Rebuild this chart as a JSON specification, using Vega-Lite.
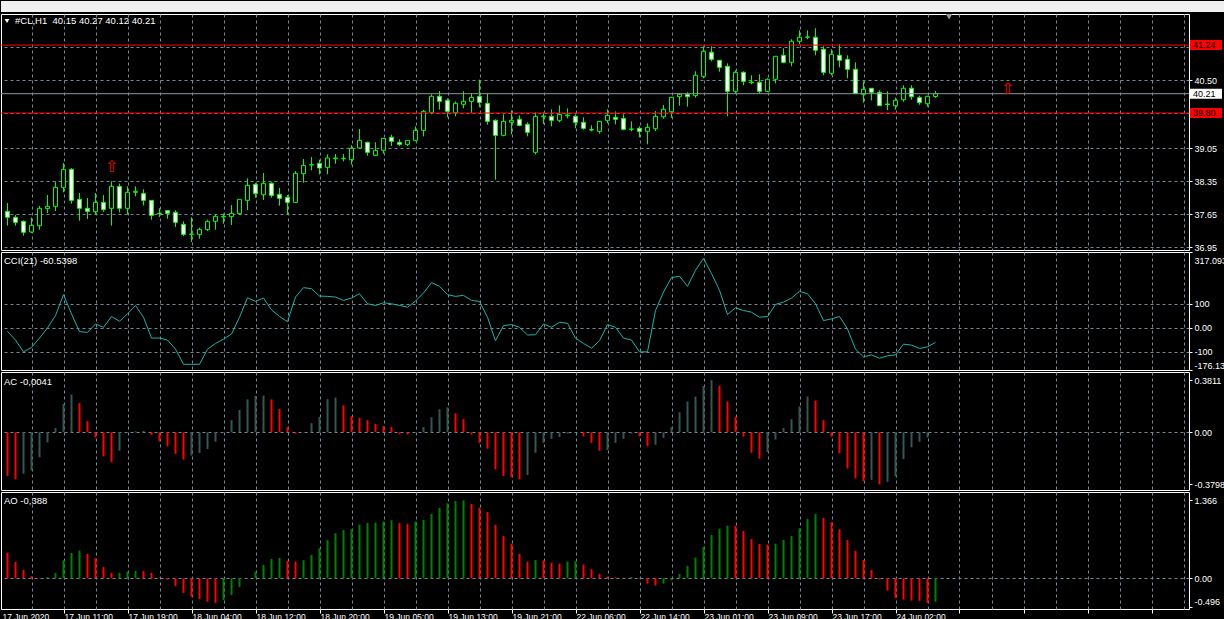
{
  "$schema": "https://vega.github.io/schema/vega-lite/v6.json",
  "background": "#000000",
  "padding": 0,
  "spacing": 2,
  "bounds": "flush",
  "datasets": {
    "candles": [
      {"i":0,"o":37.714,"h":37.891,"l":37.410,"c":37.587},{"i":1,"o":37.587,"h":37.636,"l":37.410,"c":37.481},{"i":2,"o":37.502,"h":37.523,"l":37.198,"c":37.269},{"i":3,"o":37.276,"h":37.580,"l":37.254,"c":37.417},{"i":4,"o":37.410,"h":37.827,"l":37.325,"c":37.778},{"i":5,"o":37.771,"h":38.060,"l":37.679,"c":37.820},{"i":6,"o":37.820,"h":38.343,"l":37.721,"c":38.223},{"i":7,"o":38.223,"h":38.739,"l":38.117,"c":38.605},{"i":8,"o":38.605,"h":38.633,"l":37.877,"c":37.947},{"i":9,"o":37.969,"h":38.103,"l":37.516,"c":37.778},
      {"i":10,"o":37.778,"h":37.997,"l":37.551,"c":37.714},{"i":11,"o":37.707,"h":38.103,"l":37.650,"c":37.905},{"i":12,"o":37.905,"h":38.060,"l":37.707,"c":37.749},{"i":13,"o":37.778,"h":38.350,"l":37.410,"c":38.244},{"i":14,"o":38.244,"h":38.301,"l":37.693,"c":37.778},{"i":15,"o":37.778,"h":38.244,"l":37.650,"c":38.117},{"i":16,"o":38.117,"h":38.244,"l":38.032,"c":38.138},{"i":17,"o":38.089,"h":38.181,"l":37.841,"c":37.947},{"i":18,"o":37.947,"h":37.947,"l":37.537,"c":37.629},{"i":19,"o":37.671,"h":37.778,"l":37.594,"c":37.664},
      {"i":20,"o":37.728,"h":37.735,"l":37.558,"c":37.671},{"i":21,"o":37.693,"h":37.735,"l":37.382,"c":37.481},{"i":22,"o":37.438,"h":37.502,"l":37.191,"c":37.226},{"i":23,"o":37.226,"h":37.587,"l":37.063,"c":37.233},{"i":24,"o":37.226,"h":37.368,"l":37.134,"c":37.332},{"i":25,"o":37.325,"h":37.537,"l":37.297,"c":37.502},{"i":26,"o":37.502,"h":37.650,"l":37.325,"c":37.608},{"i":27,"o":37.594,"h":37.664,"l":37.452,"c":37.608},{"i":28,"o":37.601,"h":37.848,"l":37.424,"c":37.671},{"i":29,"o":37.665,"h":37.976,"l":37.650,"c":37.969},
      {"i":30,"o":37.947,"h":38.414,"l":37.742,"c":38.265},{"i":31,"o":38.287,"h":38.315,"l":38.004,"c":38.089},{"i":32,"o":38.067,"h":38.527,"l":37.954,"c":38.308},{"i":33,"o":38.308,"h":38.329,"l":38.004,"c":38.053},{"i":34,"o":38.075,"h":38.209,"l":37.834,"c":37.990},{"i":35,"o":38.011,"h":38.060,"l":37.650,"c":37.905},{"i":36,"o":37.905,"h":38.570,"l":37.898,"c":38.520},{"i":37,"o":38.513,"h":38.824,"l":38.322,"c":38.690},{"i":38,"o":38.697,"h":38.866,"l":38.584,"c":38.704},{"i":39,"o":38.732,"h":38.810,"l":38.499,"c":38.633},
      {"i":40,"o":38.647,"h":38.923,"l":38.499,"c":38.845},{"i":41,"o":38.831,"h":38.930,"l":38.725,"c":38.845},{"i":42,"o":38.831,"h":38.930,"l":38.775,"c":38.838},{"i":43,"o":38.810,"h":39.114,"l":38.704,"c":39.050},{"i":44,"o":39.057,"h":39.461,"l":39.050,"c":39.220},{"i":45,"o":39.178,"h":39.192,"l":38.895,"c":38.966},{"i":46,"o":38.902,"h":39.178,"l":38.895,"c":39.008},{"i":47,"o":39.008,"h":39.270,"l":38.937,"c":39.263},{"i":48,"o":39.284,"h":39.340,"l":39.100,"c":39.199},{"i":49,"o":39.178,"h":39.241,"l":39.100,"c":39.135},
      {"i":50,"o":39.135,"h":39.227,"l":39.100,"c":39.220},{"i":51,"o":39.220,"h":39.517,"l":39.199,"c":39.432},{"i":52,"o":39.432,"h":39.864,"l":39.305,"c":39.835},{"i":53,"o":39.814,"h":40.196,"l":39.772,"c":40.154},{"i":54,"o":40.154,"h":40.267,"l":39.871,"c":40.047},{"i":55,"o":40.069,"h":40.111,"l":39.708,"c":39.835},{"i":56,"o":39.807,"h":40.047,"l":39.729,"c":40.005},{"i":57,"o":39.984,"h":40.260,"l":39.899,"c":40.047},{"i":58,"o":40.047,"h":40.224,"l":39.800,"c":40.132},{"i":59,"o":40.154,"h":40.507,"l":39.920,"c":40.026},
      {"i":60,"o":40.005,"h":40.217,"l":39.552,"c":39.623},{"i":61,"o":39.644,"h":39.666,"l":38.386,"c":39.326},{"i":62,"o":39.326,"h":39.772,"l":39.305,"c":39.623},{"i":63,"o":39.602,"h":39.857,"l":39.348,"c":39.644},{"i":64,"o":39.666,"h":39.750,"l":39.517,"c":39.538},{"i":65,"o":39.560,"h":39.602,"l":39.305,"c":39.390},{"i":66,"o":38.966,"h":39.814,"l":38.923,"c":39.729},{"i":67,"o":39.722,"h":39.814,"l":39.567,"c":39.736},{"i":68,"o":39.729,"h":39.878,"l":39.517,"c":39.644},{"i":69,"o":39.644,"h":39.963,"l":39.602,"c":39.772},
      {"i":70,"o":39.743,"h":39.899,"l":39.687,"c":39.758},{"i":71,"o":39.729,"h":39.772,"l":39.475,"c":39.602},{"i":72,"o":39.602,"h":39.708,"l":39.446,"c":39.475},{"i":73,"o":39.446,"h":39.538,"l":39.411,"c":39.439},{"i":74,"o":39.411,"h":39.630,"l":39.362,"c":39.623},{"i":75,"o":39.644,"h":39.878,"l":39.581,"c":39.750},{"i":76,"o":39.708,"h":39.835,"l":39.560,"c":39.666},{"i":77,"o":39.687,"h":39.772,"l":39.432,"c":39.453},{"i":78,"o":39.453,"h":39.623,"l":39.411,"c":39.461},{"i":79,"o":39.475,"h":39.517,"l":39.284,"c":39.411},
      {"i":80,"o":39.411,"h":39.581,"l":39.135,"c":39.496},{"i":81,"o":39.467,"h":39.842,"l":39.418,"c":39.730},{"i":82,"o":39.721,"h":39.970,"l":39.679,"c":39.878},{"i":83,"o":39.827,"h":40.139,"l":39.700,"c":40.133},{"i":84,"o":40.146,"h":40.218,"l":39.955,"c":40.197},{"i":85,"o":40.197,"h":40.239,"l":39.934,"c":40.146},{"i":86,"o":40.167,"h":40.685,"l":40.125,"c":40.600},{"i":87,"o":40.578,"h":41.215,"l":40.536,"c":41.109},{"i":88,"o":41.088,"h":41.215,"l":40.897,"c":40.939},{"i":89,"o":40.918,"h":40.918,"l":40.676,"c":40.769},
      {"i":90,"o":40.791,"h":40.854,"l":39.730,"c":40.260},{"i":91,"o":40.260,"h":40.706,"l":40.211,"c":40.663},{"i":92,"o":40.663,"h":40.685,"l":40.388,"c":40.472},{"i":93,"o":40.443,"h":40.600,"l":40.409,"c":40.458},{"i":94,"o":40.451,"h":40.621,"l":40.224,"c":40.260},{"i":95,"o":40.260,"h":40.536,"l":40.252,"c":40.515},{"i":96,"o":40.515,"h":41.009,"l":40.430,"c":41.003},{"i":97,"o":41.024,"h":41.173,"l":40.854,"c":40.875},{"i":98,"o":40.875,"h":41.363,"l":40.791,"c":41.321},{"i":99,"o":41.321,"h":41.554,"l":41.258,"c":41.406},
      {"i":100,"o":41.406,"h":41.554,"l":41.363,"c":41.413},{"i":101,"o":41.406,"h":41.597,"l":41.024,"c":41.130},{"i":102,"o":41.151,"h":41.215,"l":40.600,"c":40.663},{"i":103,"o":40.642,"h":41.151,"l":40.600,"c":41.045},{"i":104,"o":41.024,"h":41.258,"l":40.769,"c":40.918},{"i":105,"o":40.939,"h":41.024,"l":40.536,"c":40.727},{"i":106,"o":40.727,"h":40.875,"l":40.203,"c":40.210},{"i":107,"o":40.197,"h":40.472,"l":40.019,"c":40.303},{"i":108,"o":40.324,"h":40.330,"l":40.069,"c":40.239},{"i":109,"o":40.239,"h":40.281,"l":39.948,"c":39.955},
      {"i":110,"o":39.991,"h":40.260,"l":39.857,"c":39.980},{"i":111,"o":39.955,"h":40.125,"l":39.870,"c":40.069},{"i":112,"o":40.082,"h":40.388,"l":40.040,"c":40.324},{"i":113,"o":40.324,"h":40.388,"l":40.082,"c":40.146},{"i":114,"o":40.125,"h":40.167,"l":39.976,"c":40.019},{"i":115,"o":39.997,"h":40.167,"l":39.934,"c":40.154},{"i":116,"o":40.15,"h":40.27,"l":40.12,"c":40.21}
    ],
    "levels": [
      {"p": 41.24, "k": "level"},
      {"p": 40.21, "k": "bid"},
      {"p": 39.80, "k": "level"}
    ],
    "arrows": [
      {"i": 13, "p": 38.654},
      {"i": 125, "p": 40.303}
    ],
    "cci": [
      {"i":0,"v":-15},{"i":1,"v":-51.1},{"i":2,"v":-100.3},{"i":3,"v":-82.0},{"i":4,"v":-42.7},{"i":5,"v":-0.5},{"i":6,"v":51.5},{"i":7,"v":138.6},{"i":8,"v":58.5},{"i":9,"v":-16.0},
      {"i":10,"v":-18.8},{"i":11,"v":16.3},{"i":12,"v":2.3},{"i":13,"v":47.3},{"i":14,"v":27.6},{"i":15,"v":58.5},{"i":16,"v":93.6},{"i":17,"v":44.4},{"i":18,"v":-42.7},{"i":19,"v":-42.7},
      {"i":20,"v":-51.1},{"i":21,"v":-89.1},{"i":22,"v":-152.3},{"i":23,"v":-152.3},{"i":24,"v":-152.3},{"i":25,"v":-89.1},{"i":26,"v":-65.2},{"i":27,"v":-46.9},{"i":28,"v":-25.8},{"i":29,"v":44.4},
      {"i":30,"v":126.0},{"i":31,"v":110.5},{"i":32,"v":124.5},{"i":33,"v":75.4},{"i":34,"v":47.3},{"i":35,"v":26.2},{"i":36,"v":128.8},{"i":37,"v":168.1},{"i":38,"v":163.9},{"i":39,"v":133.0},
      {"i":40,"v":131.6},{"i":41,"v":128.8},{"i":42,"v":114.7},{"i":43,"v":124.5},{"i":44,"v":142.8},{"i":45,"v":100.7},{"i":46,"v":93.6},{"i":47,"v":104.9},{"i":48,"v":100.7},{"i":49,"v":93.6},
      {"i":50,"v":86.6},{"i":51,"v":111.9},{"i":52,"v":145.6},{"i":53,"v":189.2},{"i":54,"v":173.7},{"i":55,"v":138.6},{"i":56,"v":131.6},{"i":57,"v":135.8},{"i":58,"v":114.7},{"i":59,"v":110.5},
      {"i":60,"v":44.4},{"i":61,"v":-53.9},{"i":62,"v":9.3},{"i":63,"v":13.5},{"i":64,"v":2.3},{"i":65,"v":-30.0},{"i":66,"v":-28.6},{"i":67,"v":16.3},{"i":68,"v":2.3},{"i":69,"v":23.4},
      {"i":70,"v":19.2},{"i":71,"v":-42.7},{"i":72,"v":-65.2},{"i":73,"v":-84.8},{"i":74,"v":-53.9},{"i":75,"v":13.5},{"i":76,"v":2.3},{"i":77,"v":-42.7},{"i":78,"v":-51.1},{"i":79,"v":-100.3},
      {"i":80,"v":-100.3},{"i":81,"v":72.5},{"i":82,"v":149.8},{"i":83,"v":210.3},{"i":84,"v":215.9},{"i":85,"v":173.7},{"i":86,"v":241.2},{"i":87,"v":290.4},{"i":88,"v":227.1},{"i":89,"v":156.9},
      {"i":90,"v":55.7},{"i":91,"v":83.8},{"i":92,"v":72.5},{"i":93,"v":65.5},{"i":94,"v":44.4},{"i":95,"v":47.3},{"i":96,"v":97.8},{"i":97,"v":107.7},{"i":98,"v":124.5},{"i":99,"v":152.6},
      {"i":100,"v":142.8},{"i":101,"v":100.7},{"i":102,"v":30.4},{"i":103,"v":37.4},{"i":104,"v":47.3},{"i":105,"v":-4.7},{"i":106,"v":-89.1},{"i":107,"v":-121.4},{"i":108,"v":-113.0},{"i":109,"v":-127.0},
      {"i":110,"v":-117.2},{"i":111,"v":-113.0},{"i":112,"v":-68.0},{"i":113,"v":-72.2},{"i":114,"v":-86.3},{"i":115,"v":-79.2},{"i":116,"v":-60.54}
    ],
    "ac": [
      {"i":0,"v":-0.319,"t":"d"},{"i":1,"v":-0.343,"t":"d"},{"i":2,"v":-0.302,"t":"u"},{"i":3,"v":-0.278,"t":"u"},{"i":4,"v":-0.182,"t":"u"},{"i":5,"v":-0.074,"t":"u"},{"i":6,"v":0.031,"t":"u"},{"i":7,"v":0.206,"t":"u"},{"i":8,"v":0.276,"t":"u"},{"i":9,"v":0.213,"t":"d"},
      {"i":10,"v":0.081,"t":"d"},{"i":11,"v":-0.038,"t":"d"},{"i":12,"v":-0.175,"t":"d"},{"i":13,"v":-0.218,"t":"d"},{"i":14,"v":-0.134,"t":"u"},{"i":15,"v":-0.005,"t":"u"},{"i":16,"v":0.007,"t":"u"},{"i":17,"v":0.010,"t":"u"},{"i":18,"v":-0.019,"t":"d"},{"i":19,"v":-0.067,"t":"d"},
      {"i":20,"v":-0.103,"t":"d"},{"i":21,"v":-0.158,"t":"d"},{"i":22,"v":-0.199,"t":"d"},{"i":23,"v":-0.170,"t":"u"},{"i":24,"v":-0.151,"t":"u"},{"i":25,"v":-0.122,"t":"u"},{"i":26,"v":-0.069,"t":"u"},{"i":27,"v":-0.003,"t":"u"},{"i":28,"v":0.089,"t":"u"},{"i":29,"v":0.163,"t":"u"},
      {"i":30,"v":0.240,"t":"u"},{"i":31,"v":0.266,"t":"u"},{"i":32,"v":0.268,"t":"u"},{"i":33,"v":0.240,"t":"d"},{"i":34,"v":0.170,"t":"d"},{"i":35,"v":0.038,"t":"d"},{"i":36,"v":-0.010,"t":"d"},{"i":37,"v":-0.002,"t":"u"},{"i":38,"v":0.067,"t":"u"},{"i":39,"v":0.113,"t":"u"},
      {"i":40,"v":0.242,"t":"u"},{"i":41,"v":0.254,"t":"u"},{"i":42,"v":0.197,"t":"d"},{"i":43,"v":0.117,"t":"d"},{"i":44,"v":0.105,"t":"d"},{"i":45,"v":0.089,"t":"d"},{"i":46,"v":0.062,"t":"d"},{"i":47,"v":0.046,"t":"d"},{"i":48,"v":0.038,"t":"d"},{"i":49,"v":-0.014,"t":"d"},
      {"i":50,"v":-0.016,"t":"d"},{"i":51,"v":0.000,"t":"u"},{"i":52,"v":0.038,"t":"u"},{"i":53,"v":0.110,"t":"u"},{"i":54,"v":0.168,"t":"u"},{"i":55,"v":0.182,"t":"u"},{"i":56,"v":0.139,"t":"d"},{"i":57,"v":0.096,"t":"d"},{"i":58,"v":-0.017,"t":"d"},{"i":59,"v":-0.077,"t":"d"},
      {"i":60,"v":-0.120,"t":"d"},{"i":61,"v":-0.271,"t":"d"},{"i":62,"v":-0.319,"t":"d"},{"i":63,"v":-0.328,"t":"d"},{"i":64,"v":-0.343,"t":"d"},{"i":65,"v":-0.312,"t":"u"},{"i":66,"v":-0.149,"t":"u"},{"i":67,"v":-0.077,"t":"u"},{"i":68,"v":-0.048,"t":"u"},{"i":69,"v":-0.034,"t":"u"},
      {"i":70,"v":-0.010,"t":"u"},{"i":71,"v":-0.002,"t":"u"},{"i":72,"v":-0.029,"t":"d"},{"i":73,"v":-0.077,"t":"d"},{"i":74,"v":-0.134,"t":"d"},{"i":75,"v":-0.129,"t":"u"},{"i":76,"v":-0.077,"t":"u"},{"i":77,"v":-0.048,"t":"u"},{"i":78,"v":-0.010,"t":"u"},{"i":79,"v":-0.029,"t":"d"},
      {"i":80,"v":-0.101,"t":"d"},{"i":81,"v":-0.091,"t":"u"},{"i":82,"v":-0.041,"t":"u"},{"i":83,"v":0.038,"t":"u"},{"i":84,"v":0.146,"t":"u"},{"i":85,"v":0.225,"t":"u"},{"i":86,"v":0.261,"t":"u"},{"i":87,"v":0.338,"t":"u"},{"i":88,"v":0.381,"t":"u"},{"i":89,"v":0.340,"t":"d"},
      {"i":90,"v":0.225,"t":"d"},{"i":91,"v":0.110,"t":"d"},{"i":92,"v":-0.031,"t":"d"},{"i":93,"v":-0.149,"t":"d"},{"i":94,"v":-0.192,"t":"d"},{"i":95,"v":-0.144,"t":"u"},{"i":96,"v":-0.053,"t":"u"},{"i":97,"v":0.031,"t":"u"},{"i":98,"v":0.096,"t":"u"},{"i":99,"v":0.189,"t":"u"},
      {"i":100,"v":0.261,"t":"u"},{"i":101,"v":0.232,"t":"d"},{"i":102,"v":0.089,"t":"d"},{"i":103,"v":-0.031,"t":"d"},{"i":104,"v":-0.153,"t":"d"},{"i":105,"v":-0.264,"t":"d"},{"i":106,"v":-0.335,"t":"d"},{"i":107,"v":-0.357,"t":"d"},{"i":108,"v":-0.347,"t":"u"},{"i":109,"v":-0.3798,"t":"d"},
      {"i":110,"v":-0.362,"t":"u"},{"i":111,"v":-0.321,"t":"u"},{"i":112,"v":-0.196,"t":"u"},{"i":113,"v":-0.110,"t":"u"},{"i":114,"v":-0.069,"t":"u"},{"i":115,"v":-0.038,"t":"u"},{"i":116,"v":-0.0041,"t":"u"}
    ],
    "ao": [
      {"i":0,"v":0.450,"t":"d"},{"i":1,"v":0.286,"t":"d"},{"i":2,"v":0.146,"t":"d"},{"i":3,"v":0.035,"t":"d"},{"i":4,"v":0.006,"t":"d"},{"i":5,"v":0.018,"t":"u"},{"i":6,"v":0.093,"t":"u"},{"i":7,"v":0.315,"t":"u"},{"i":8,"v":0.444,"t":"u"},{"i":9,"v":0.485,"t":"u"},
      {"i":10,"v":0.426,"t":"d"},{"i":11,"v":0.350,"t":"d"},{"i":12,"v":0.198,"t":"d"},{"i":13,"v":0.093,"t":"d"},{"i":14,"v":0.095,"t":"u"},{"i":15,"v":0.117,"t":"u"},{"i":16,"v":0.128,"t":"u"},{"i":17,"v":0.125,"t":"d"},{"i":18,"v":0.093,"t":"d"},{"i":19,"v":0.012,"t":"d"},
      {"i":20,"v":-0.023,"t":"d"},{"i":21,"v":-0.140,"t":"d"},{"i":22,"v":-0.257,"t":"d"},{"i":23,"v":-0.321,"t":"d"},{"i":24,"v":-0.368,"t":"d"},{"i":25,"v":-0.409,"t":"d"},{"i":26,"v":-0.432,"t":"d"},{"i":27,"v":-0.379,"t":"u"},{"i":28,"v":-0.292,"t":"u"},{"i":29,"v":-0.152,"t":"u"},
      {"i":30,"v":0.005,"t":"u"},{"i":31,"v":0.117,"t":"u"},{"i":32,"v":0.234,"t":"u"},{"i":33,"v":0.339,"t":"u"},{"i":34,"v":0.356,"t":"u"},{"i":35,"v":0.304,"t":"d"},{"i":36,"v":0.292,"t":"d"},{"i":37,"v":0.315,"t":"u"},{"i":38,"v":0.409,"t":"u"},{"i":39,"v":0.525,"t":"u"},
      {"i":40,"v":0.671,"t":"u"},{"i":41,"v":0.788,"t":"u"},{"i":42,"v":0.846,"t":"u"},{"i":43,"v":0.858,"t":"u"},{"i":44,"v":0.940,"t":"u"},{"i":45,"v":0.969,"t":"u"},{"i":46,"v":0.975,"t":"u"},{"i":47,"v":0.992,"t":"u"},{"i":48,"v":1.016,"t":"u"},{"i":49,"v":0.969,"t":"d"},
      {"i":50,"v":0.952,"t":"d"},{"i":51,"v":0.992,"t":"u"},{"i":52,"v":1.022,"t":"u"},{"i":53,"v":1.127,"t":"u"},{"i":54,"v":1.232,"t":"u"},{"i":55,"v":1.313,"t":"u"},{"i":56,"v":1.354,"t":"u"},{"i":57,"v":1.366,"t":"u"},{"i":58,"v":1.302,"t":"d"},{"i":59,"v":1.238,"t":"d"},
      {"i":60,"v":1.162,"t":"d"},{"i":61,"v":0.934,"t":"d"},{"i":62,"v":0.741,"t":"d"},{"i":63,"v":0.607,"t":"d"},{"i":64,"v":0.426,"t":"d"},{"i":65,"v":0.292,"t":"d"},{"i":66,"v":0.321,"t":"u"},{"i":67,"v":0.315,"t":"d"},{"i":68,"v":0.274,"t":"d"},{"i":69,"v":0.257,"t":"d"},
      {"i":70,"v":0.292,"t":"u"},{"i":71,"v":0.298,"t":"u"},{"i":72,"v":0.239,"t":"d"},{"i":73,"v":0.158,"t":"d"},{"i":74,"v":0.076,"t":"d"},{"i":75,"v":0.029,"t":"d"},{"i":76,"v":0.018,"t":"d"},{"i":77,"v":0.010,"t":"d"},{"i":78,"v":0.020,"t":"u"},{"i":79,"v":-0.010,"t":"d"},
      {"i":80,"v":-0.093,"t":"d"},{"i":81,"v":-0.128,"t":"d"},{"i":82,"v":-0.093,"t":"u"},{"i":83,"v":-0.035,"t":"u"},{"i":84,"v":0.076,"t":"u"},{"i":85,"v":0.216,"t":"u"},{"i":86,"v":0.362,"t":"u"},{"i":87,"v":0.549,"t":"u"},{"i":88,"v":0.759,"t":"u"},{"i":89,"v":0.870,"t":"u"},
      {"i":90,"v":0.922,"t":"u"},{"i":91,"v":0.918,"t":"d"},{"i":92,"v":0.829,"t":"d"},{"i":93,"v":0.689,"t":"d"},{"i":94,"v":0.601,"t":"d"},{"i":95,"v":0.590,"t":"d"},{"i":96,"v":0.605,"t":"u"},{"i":97,"v":0.671,"t":"u"},{"i":98,"v":0.741,"t":"u"},{"i":99,"v":0.876,"t":"u"},
      {"i":100,"v":1.039,"t":"u"},{"i":101,"v":1.127,"t":"u"},{"i":102,"v":1.057,"t":"d"},{"i":103,"v":0.981,"t":"d"},{"i":104,"v":0.858,"t":"d"},{"i":105,"v":0.671,"t":"d"},{"i":106,"v":0.479,"t":"d"},{"i":107,"v":0.321,"t":"d"},{"i":108,"v":0.146,"t":"d"},{"i":109,"v":-0.023,"t":"d"},
      {"i":110,"v":-0.216,"t":"d"},{"i":111,"v":-0.344,"t":"d"},{"i":112,"v":-0.374,"t":"d"},{"i":113,"v":-0.391,"t":"d"},{"i":114,"v":-0.393,"t":"d"},{"i":115,"v":-0.432,"t":"d"},{"i":116,"v":-0.409,"t":"u"}
    ],
    "xlabels": [
      {"i": -0.75, "label": "17 Jun 2020"},
      {"i": 7, "label": "17 Jun 11:00"},
      {"i": 15, "label": "17 Jun 19:00"},
      {"i": 23, "label": "18 Jun 04:00"},
      {"i": 31, "label": "18 Jun 12:00"},
      {"i": 39, "label": "18 Jun 20:00"},
      {"i": 47, "label": "19 Jun 05:00"},
      {"i": 55, "label": "19 Jun 13:00"},
      {"i": 63, "label": "19 Jun 21:00"},
      {"i": 71, "label": "22 Jun 06:00"},
      {"i": 79, "label": "22 Jun 14:00"},
      {"i": 87, "label": "23 Jun 01:00"},
      {"i": 95, "label": "23 Jun 09:00"},
      {"i": 103, "label": "23 Jun 17:00"},
      {"i": 111, "label": "24 Jun 02:00"}
    ]
  },
  "vconcat": [
    {
      "width": 1224,
      "height": 11,
      "view": {"fill": "#f0f0f0", "stroke": null},
      "data": {"values": [{}]},
      "mark": {"type": "text", "text": " "}
    },
    {
      "width": 1188,
      "height": 236,
      "layer": [
        {
          "data": {"name": "candles"},
          "mark": {"type": "rule", "color": "#00ff00", "strokeWidth": 1},
          "encoding": {
            "x": {"field": "i", "type": "quantitative", "scale": {"domain": [-0.8125, 147.6875], "nice": false, "zero": false, "padding": 0},
                  "axis": {"values": [3,7,11,15,19,23,27,31,35,39,43,47,51,55,59,63,67,71,75,79,83,87,91,95,99,103,107,111,115,119,123,127,131,135,139,143,147], "tickCount": 500, "grid": true, "labels": false, "ticks": false, "domain": false}},
            "y": {"field": "l", "type": "quantitative", "scale": {"domain": [36.894, 41.9], "nice": false, "zero": false, "padding": 0},
                  "axis": {"orient": "right", "values": [41.2, 40.5, 39.8, 39.05, 38.35, 37.65, 36.95], "tickCount": 500, "labelOverlap": false, "format": ".2f", "grid": true,
                           "labelOpacity": {"condition": {"test": "datum.value == 41.2 || datum.value == 39.8", "value": 0}, "value": 1},
                           "tickOpacity": {"condition": {"test": "datum.value == 41.2 || datum.value == 39.8", "value": 0}, "value": 1}}},
            "y2": {"field": "h"}
          }
        },
        {
          "data": {"name": "candles"},
          "mark": {"type": "bar", "width": 4, "stroke": "#00ff00", "strokeWidth": 1},
          "encoding": {
            "x": {"field": "i", "type": "quantitative"},
            "y": {"field": "o", "type": "quantitative"},
            "y2": {"field": "c"},
            "fill": {"condition": {"test": "datum.c < datum.o", "value": "#ffffff"}, "value": "#000000"}
          }
        },
        {
          "data": {"name": "levels"},
          "mark": {"type": "rule", "strokeWidth": 1},
          "encoding": {
            "y": {"field": "p", "type": "quantitative"},
            "stroke": {"condition": {"test": "datum.k == 'bid'", "value": "#8c959e"}, "value": "#ff0000"}
          }
        },
        {
          "data": {"name": "levels"},
          "mark": {"type": "bar", "height": 10},
          "encoding": {
            "x": {"datum": 147.81, "type": "quantitative"},
            "x2": {"datum": 151.81},
            "y": {"field": "p", "type": "quantitative"},
            "fill": {"condition": {"test": "datum.k == 'bid'", "value": "#ffffff"}, "value": "#ff0000"}
          }
        },
        {
          "data": {"name": "levels"},
          "mark": {"type": "text", "align": "left", "baseline": "middle", "fontSize": 9, "color": "#000000", "font": "Liberation Sans"},
          "encoding": {
            "x": {"datum": 148.2, "type": "quantitative"},
            "y": {"field": "p", "type": "quantitative"},
            "text": {"field": "p", "type": "quantitative", "format": ".2f"}
          }
        },
        {
          "data": {"name": "arrows"},
          "mark": {"type": "text", "text": "⇧", "color": "#ff0000", "fontSize": 16, "font": "DejaVu Sans", "align": "center", "baseline": "middle"},
          "encoding": {
            "x": {"field": "i", "type": "quantitative"},
            "y": {"field": "p", "type": "quantitative"}
          }
        },
        {
          "data": {"values": [{}]},
          "mark": {"type": "point", "shape": "triangle-down", "filled": true, "color": "#9a9a9a", "size": 40, "opacity": 1},
          "encoding": {
            "x": {"datum": 117.7, "type": "quantitative"},
            "y": {"datum": 41.84, "type": "quantitative"}
          }
        },
        {
          "data": {"values": [{}]},
          "mark": {"type": "point", "shape": "triangle-down", "filled": true, "color": "#ffffff", "size": 22, "opacity": 1},
          "encoding": {
            "x": {"datum": -0.06, "type": "quantitative"},
            "y": {"datum": 41.752, "type": "quantitative"}
          }
        },
        {
          "data": {"values": [{}]},
          "mark": {"type": "text", "text": "#CL,H1\u00a0\u00a040.15 40.27 40.12 40.21", "align": "left", "baseline": "middle", "color": "#ffffff", "fontSize": 9.5},
          "encoding": {
            "x": {"datum": 0.9375, "type": "quantitative"},
            "y": {"datum": 41.745, "type": "quantitative"}
          }
        }
      ]
    },
    {
      "width": 1188,
      "height": 118,
      "layer": [
        {
          "data": {"name": "cci"},
          "mark": {"type": "line", "color": "#20b2aa", "strokeWidth": 1},
          "encoding": {
            "x": {"field": "i", "type": "quantitative", "scale": {"domain": [-0.8125, 147.6875], "nice": false, "zero": false, "padding": 0},
                  "axis": {"values": [3,7,11,15,19,23,27,31,35,39,43,47,51,55,59,63,67,71,75,79,83,87,91,95,99,103,107,111,115,119,123,127,131,135,139,143,147], "tickCount": 500, "grid": true, "labels": false, "ticks": false, "domain": false}},
            "y": {"field": "v", "type": "quantitative", "scale": {"domain": [-176.13, 317.093], "nice": false, "zero": false, "padding": 0},
                  "axis": {"orient": "right", "values": [317.093, 100, 0, -100, -176.13], "tickCount": 500, "labelOverlap": false, "grid": true,
                           "gridOpacity": {"condition": {"test": "abs(datum.value) > 150", "value": 0}, "value": 1},
                           "labelExpr": "datum.value == 0 ? '0.00' : '' + datum.value",
                           "labelOffset": {"condition": {"test": "datum.value > 300", "value": 8}, "value": 0},
                           "labelBaseline": {"condition": {"test": "datum.value < -150", "value": "bottom"}, "value": "middle"}}}
          }
        },
        {
          "data": {"values": [{}]},
          "mark": {"type": "text", "text": "CCI(21) -60.5398", "align": "left", "baseline": "middle", "color": "#ffffff", "fontSize": 9.5},
          "encoding": {
            "x": {"datum": -0.4375, "type": "quantitative"},
            "y": {"datum": 278, "type": "quantitative"}
          }
        }
      ]
    },
    {
      "width": 1188,
      "height": 118,
      "layer": [
        {
          "data": {"name": "ac"},
          "mark": {"type": "bar", "width": 2, "strokeWidth": 0},
          "encoding": {
            "x": {"field": "i", "type": "quantitative", "scale": {"domain": [-0.8125, 147.6875], "nice": false, "zero": false, "padding": 0},
                  "axis": {"values": [3,7,11,15,19,23,27,31,35,39,43,47,51,55,59,63,67,71,75,79,83,87,91,95,99,103,107,111,115,119,123,127,131,135,139,143,147], "tickCount": 500, "grid": true, "labels": false, "ticks": false, "domain": false}},
            "y": {"field": "v", "type": "quantitative", "scale": {"domain": [-0.421, 0.44], "nice": false, "zero": false, "padding": 0},
                  "axis": {"orient": "right", "values": [0.3811, 0, -0.3798], "tickCount": 500, "labelOverlap": false, "grid": true,
                           "gridOpacity": {"condition": {"test": "datum.value != 0", "value": 0}, "value": 1},
                           "labelExpr": "datum.value == 0 ? '0.00' : '' + datum.value"}},
            "y2": {"datum": 0},
            "fill": {"condition": {"test": "datum.t == 'd'", "value": "#ff0000"}, "value": "#3a5454"}
          }
        },
        {
          "data": {"values": [{}]},
          "mark": {"type": "text", "text": "AC -0,0041", "align": "left", "baseline": "middle", "color": "#ffffff", "fontSize": 9.5},
          "encoding": {
            "x": {"datum": -0.4375, "type": "quantitative"},
            "y": {"datum": 0.367, "type": "quantitative"}
          }
        }
      ]
    },
    {
      "width": 1188,
      "height": 117,
      "layer": [
        {
          "data": {"name": "ao"},
          "mark": {"type": "bar", "width": 2, "strokeWidth": 0},
          "encoding": {
            "x": {"field": "i", "type": "quantitative", "scale": {"domain": [-0.8125, 147.6875], "nice": false, "zero": false, "padding": 0},
                  "axis": {"values": [3,7,11,15,19,23,27,31,35,39,43,47,51,55,59,63,67,71,75,79,83,87,91,95,99,103,107,111,115,119,123,127,131,135,139,143,147], "tickCount": 500, "grid": true, "labels": false, "ticks": true, "tickSize": 4, "domain": false,
                           "tickOpacity": {"condition": {"test": "(datum.value + 1) % 8 == 0", "value": 1}, "value": 0}}},
            "y": {"field": "v", "type": "quantitative", "scale": {"domain": [-0.538, 1.511], "nice": false, "zero": false, "padding": 0},
                  "axis": {"orient": "right", "values": [1.366, 0, -0.496], "tickCount": 500, "labelOverlap": false, "grid": true,
                           "gridOpacity": {"condition": {"test": "datum.value != 0", "value": 0}, "value": 1},
                           "labelExpr": "datum.value == 0 ? '0.00' : '' + datum.value",
                           "labelBaseline": {"condition": {"test": "datum.value < 0", "value": "bottom"}, "value": "middle"}}},
            "y2": {"datum": 0},
            "fill": {"condition": {"test": "datum.t == 'd'", "value": "#ff0000"}, "value": "#008000"}
          }
        },
        {
          "data": {"values": [{}]},
          "mark": {"type": "text", "text": "AO -0,388", "align": "left", "baseline": "middle", "color": "#ffffff", "fontSize": 9.5},
          "encoding": {
            "x": {"datum": -0.4375, "type": "quantitative"},
            "y": {"datum": 1.345, "type": "quantitative"}
          }
        },
        {
          "data": {"name": "xlabels"},
          "mark": {"type": "text", "align": "left", "baseline": "top", "color": "#ffffff", "fontSize": 8.5, "dx": 1},
          "encoding": {
            "x": {"field": "i", "type": "quantitative"},
            "y": {"datum": -0.6, "type": "quantitative"},
            "text": {"field": "label", "type": "nominal"}
          }
        }
      ]
    }
  ],
  "config": {
    "view": {"stroke": "#ffffff", "strokeWidth": 1, "fill": "#000000"},
    "axis": {"title": null, "domain": false, "labelColor": "#ffffff", "labelFont": "Liberation Sans", "labelFontSize": 9, "tickColor": "#ffffff", "tickSize": 3, "labelPadding": 2, "gridColor": "#778899", "gridDash": [3, 3], "gridWidth": 1, "labelOverlap": false, "labelFlush": false},
    "text": {"font": "Liberation Sans"}
  }
}
